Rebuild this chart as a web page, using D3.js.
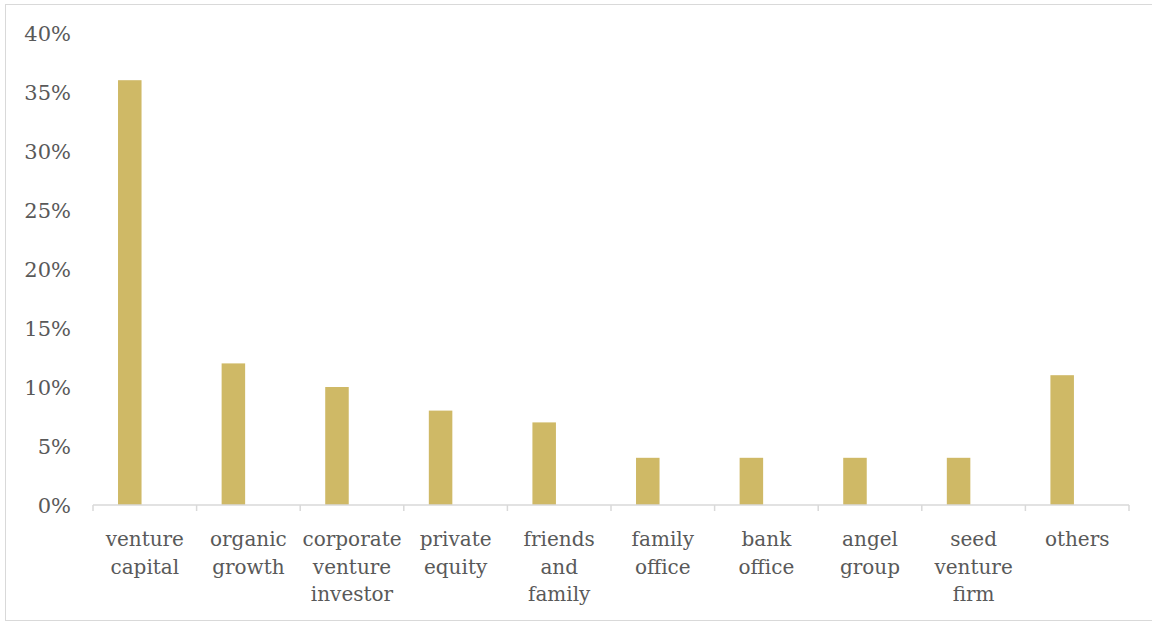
<!DOCTYPE html>
<html>
  <head>
    <meta charset="utf-8">
    <style>
      body { margin: 0; background: #fff; }
      svg text { font-family: "DejaVu Serif", serif; fill: #595959; }
    </style>
  </head>
  <body>
    <svg width="1152" height="622"></svg>
    <script src="https://d3js.org/d3.v7.min.js"></script>
    <script>
      // data
      var categories = ["venture capital", "organic growth", "corporate venture investor",
                        "private equity", "friends and family", "family office",
                        "bank office", "angel group", "seed venture firm", "others"];
      var labelLines = [["venture", "capital"], ["organic", "growth"], ["corporate", "venture", "investor"],
                        ["private", "equity"], ["friends", "and", "family"], ["family", "office"],
                        ["bank", "office"], ["angel", "group"], ["seed", "venture", "firm"], ["others"]];
      var values     = [0.36, 0.12, 0.10, 0.08, 0.07, 0.04, 0.04, 0.04, 0.04, 0.11];
      var yTicks     = [0, 0.05, 0.10, 0.15, 0.20, 0.25, 0.30, 0.35, 0.40];

      var svg = d3.select("svg"),
          plotL = 93, plotR = 1129, plotT = 33, plotB = 505;

      // chart border
      svg.append("rect")
          .attr("x", 5.5).attr("y", 4.5)
          .attr("width", 1150).attr("height", 616)
          .attr("fill", "none")
          .attr("stroke", "#d9d9d9");

      var x = d3.scaleBand().domain(categories).range([plotL, plotR]);
      var y = d3.scaleLinear().domain([0, 0.4]).range([plotB, plotT]);

      var barW = x.bandwidth() * 0.227,
          barOff = -x.bandwidth() * 0.145;

      // y labels
      svg.append("g").selectAll("text")
          .data(yTicks)
          .enter().append("text")
          .attr("x", 71)
          .attr("y", function(d) { return y(d) + 8; })
          .attr("text-anchor", "end")
          .style("font-size", "21px")
          .text(d3.format(".0%"));

      // bars
      svg.append("g").selectAll("rect")
          .data(values)
          .enter().append("rect")
          .attr("x", function(d, i) { return x(categories[i]) + x.bandwidth() / 2 + barOff - barW / 2; })
          .attr("y", function(d) { return y(d); })
          .attr("width", barW)
          .attr("height", function(d) { return y(0) - y(d); })
          .attr("fill", "#cfb966");

      // x axis
      var ax = svg.append("g").attr("stroke", "#d9d9d9").attr("stroke-width", 1.5);
      ax.append("line")
          .attr("x1", plotL).attr("x2", plotR)
          .attr("y1", plotB).attr("y2", plotB);
      ax.selectAll(".tick")
          .data(categories.concat([null]))
          .enter().append("line")
          .attr("x1", function(d) { return d ? x(d) : plotR; })
          .attr("x2", function(d) { return d ? x(d) : plotR; })
          .attr("y1", plotB).attr("y2", plotB + 6);

      // category labels
      var lab = svg.append("g").selectAll("text")
          .data(labelLines)
          .enter().append("text")
          .attr("text-anchor", "middle")
          .style("font-size", "20px")
          .attr("transform", function(d, i) {
            return "translate(" + (x(categories[i]) + x.bandwidth() / 2) + ",546)";
          });
      lab.selectAll("tspan")
          .data(function(d) { return d; })
          .enter().append("tspan")
          .attr("x", 0)
          .attr("y", function(d, j) { return j * 27.5; })
          .text(function(d) { return d; });
    </script>
  </body>
</html>
